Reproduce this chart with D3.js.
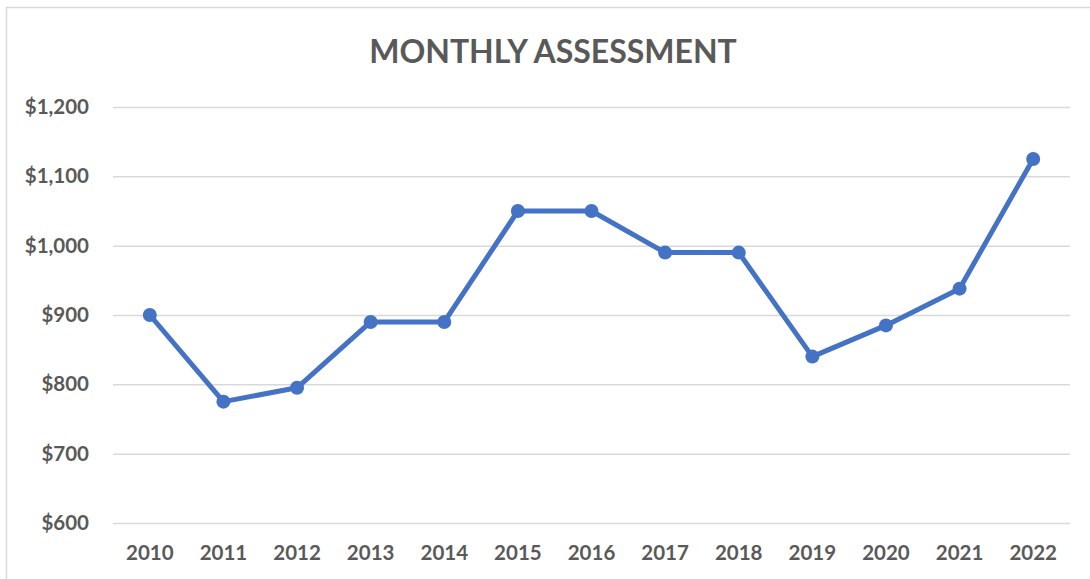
<!DOCTYPE html>
<html>
<head>
<meta charset="utf-8">
<script src="https://cdn.jsdelivr.net/npm/d3@7"></script>
<style>
  body { margin: 0; background: #fff; }
  .chart text { font-family: Lato, 'Open Sans', sans-serif; font-weight: bold; fill: #595959; }
</style>
</head>
<body>
<div id="chart-area"></div>
<script>
const years = ['2010', '2011', '2012', '2013', '2014', '2015', '2016', '2017', '2018', '2019', '2020', '2021', '2022']
const assessment = [900, 775, 795, 890, 890, 1050, 1050, 990, 990, 840, 885, 938, 1125]
const yTicks = [600, 700, 800, 900, 1000, 1100, 1200]

const data = years.map((y, i) => ({ year: y, value: assessment[i] }))

const margin = { left: 113, right: 20, top: 107, bottom: 56 }
const width = 1090 - margin.left - margin.right
const height = 579 - margin.top - margin.bottom

const svg = d3.select('#chart-area')
              .append('svg')
              .attr('class', 'chart')
              .attr('width', 1090)
              .attr('height', 579)

// chart area border (only left/top visible in frame)
svg.append('rect')
   .attr('x', 6.5).attr('y', 7.5)
   .attr('width', 1100).attr('height', 600)
   .attr('fill', 'none')
   .attr('stroke', '#d9d9d9')
   .attr('stroke-width', 1.5)

const g = svg.append('g')
             .attr('transform', 'translate(' + margin.left + ', ' + margin.top + ')')

// Title
svg.append('text')
   .attr('x', 553)
   .attr('y', 63)
   .attr('text-anchor', 'middle')
   .attr('font-size', '32px')
   .text('MONTHLY ASSESSMENT')

// X Scale
const x = d3.scaleBand()
            .domain(years)
            .range([0, width])

// Y Scale
const y = d3.scaleLinear()
            .domain([600, 1200])
            .range([height, 0])

// Gridlines
const yAxisCall = d3.axisLeft(y)
                    .tickValues(yTicks)
                    .tickSize(-width)
                    .tickPadding(24)
                    .tickFormat(d => '$' + d3.format(',')(d))

const yAxisGroup = g.append('g')
                    .attr('class', 'y-axis')
                    .call(yAxisCall)
yAxisGroup.select('.domain').remove()
yAxisGroup.selectAll('line').attr('stroke', '#d9d9d9').attr('stroke-width', 1.5)
yAxisGroup.selectAll('text').attr('font-size', '20.5px')

// X Axis
const xAxisCall = d3.axisBottom(x).tickSize(0).tickPadding(22)
const xAxisGroup = g.append('g')
                    .attr('class', 'x-axis')
                    .attr('transform', 'translate(0,' + height + ')')
                    .call(xAxisCall)
xAxisGroup.select('.domain').remove()
xAxisGroup.selectAll('text').attr('font-size', '20.5px')

// Line
const line = d3.line()
               .x(d => x(d.year) + x.bandwidth() / 2)
               .y(d => y(d.value))

g.append('path')
 .datum(data)
 .attr('fill', 'none')
 .attr('stroke', '#4472c4')
 .attr('stroke-width', 5)
 .attr('stroke-linejoin', 'round')
 .attr('d', line)

g.selectAll('circle')
 .data(data)
 .enter()
 .append('circle')
 .attr('cx', d => x(d.year) + x.bandwidth() / 2)
 .attr('cy', d => y(d.value))
 .attr('r', 7)
 .attr('fill', '#4472c4')
</script>
</body>
</html>
